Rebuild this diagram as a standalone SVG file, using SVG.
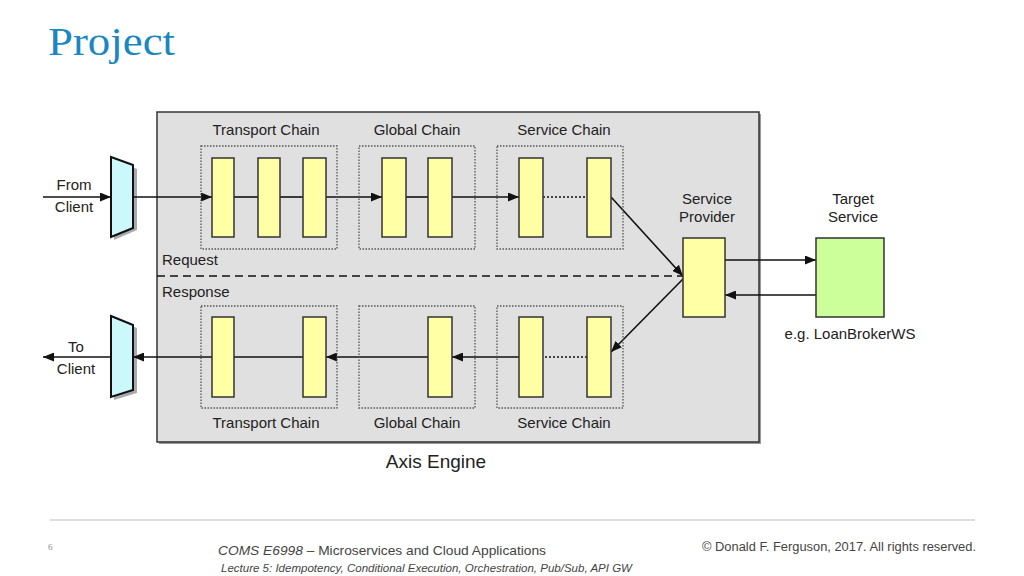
<svg xmlns="http://www.w3.org/2000/svg" width="1024" height="576" viewBox="0 0 1024 576">
<style>
.lbl{font-family:"Liberation Sans",Arial,sans-serif;font-size:15px;fill:#222}
.big{font-size:19px}
.yl{fill:#ffffa6;stroke:#333;stroke-width:1.5}
.dot{fill:none;stroke:#555;stroke-width:1.3;stroke-dasharray:1.5 1.5}
.ln{stroke:#111;stroke-width:1.6;fill:none}
.arr{stroke:#111;stroke-width:1.6;fill:none;marker-end:url(#ah)}
.ft{font-family:"Liberation Sans",Arial,sans-serif;fill:#444}
</style>
<defs>
<marker id="ah" markerUnits="userSpaceOnUse" markerWidth="11" markerHeight="9" refX="11" refY="4.5" orient="auto">
<path d="M0,0 L11,4.5 L0,9 z" fill="#111"/>
</marker>
</defs>
<rect width="1024" height="576" fill="#fff"/>
<text x="48" y="55" font-family="'Liberation Serif','Times New Roman',serif" font-size="40" fill="#1a87c1" textLength="127" lengthAdjust="spacingAndGlyphs">Project</text>

<g id="axis-engine">
<rect x="159" y="114" width="602" height="330" fill="#999"/>
<rect x="157" y="112" width="602" height="330" fill="#e0e0e0" stroke="#333" stroke-width="1.5"/>
<text x="436" y="468" class="lbl big" text-anchor="middle">Axis Engine</text>
<text x="162" y="265" class="lbl">Request</text>
<text x="162" y="297" class="lbl">Response</text>
</g>

<g id="in-funnel">
<polygon points="114,160 137,169 137,230 114,240" fill="#aaa"/>
<polygon points="111,157 133,165 133,228 111,237" fill="#ccf7fb" stroke="#111" stroke-width="2"/>
</g>
<g id="out-funnel">
<polygon points="114,319 137,328 137,393 114,400" fill="#aaa"/>
<polygon points="111,316 133,325 133,390 111,397" fill="#ccf7fb" stroke="#111" stroke-width="2"/>
</g>
<g id="from-client"><text class="lbl" text-anchor="middle" x="74" y="190">From</text><text class="lbl" text-anchor="middle" x="74" y="212">Client</text></g>
<g id="to-client"><text class="lbl" text-anchor="middle" x="76" y="352">To</text><text class="lbl" text-anchor="middle" x="76" y="374">Client</text></g>

<g id="connectors">
<line class="arr" x1="43" y1="197" x2="111" y2="197"/>
<line class="arr" x1="133" y1="197" x2="212" y2="197"/>
<line class="ln" x1="234" y1="197" x2="258" y2="197"/>
<line class="ln" x1="280" y1="197" x2="303" y2="197"/>
<line class="arr" x1="326" y1="197" x2="382" y2="197"/>
<line class="ln" x1="406" y1="197" x2="428" y2="197"/>
<line class="arr" x1="452" y1="197" x2="519" y2="197"/>
<line class="ln" x1="543" y1="197" x2="587" y2="197" stroke-dasharray="2 2" stroke-width="1.3"/>
<line class="arr" x1="611" y1="197" x2="683" y2="276"/>
<line class="ln" x1="157" y1="276" x2="683" y2="276" stroke-dasharray="8 5" stroke-width="2"/>
<line class="arr" x1="683" y1="279" x2="611" y2="352"/>
<line class="ln" x1="587" y1="357" x2="543" y2="357" stroke-dasharray="2 2" stroke-width="1.3"/>
<line class="arr" x1="519" y1="357" x2="452" y2="357"/>
<line class="arr" x1="428" y1="357" x2="326" y2="357"/>
<line class="ln" x1="303" y1="357" x2="234" y2="357"/>
<line class="arr" x1="212" y1="357" x2="133" y2="357"/>
<line class="arr" x1="111" y1="357" x2="43" y2="357"/>
<line class="arr" x1="725" y1="260" x2="816" y2="260"/>
<line class="arr" x1="816" y1="295" x2="725" y2="295"/>
</g>

<g id="transport-chain-req">
<rect class="dot" x="201" y="146" width="136" height="103"/>
<rect class="yl" x="212" y="158" width="22" height="79"/>
<rect class="yl" x="258" y="158" width="22" height="79"/>
<rect class="yl" x="303" y="158" width="23" height="79"/>
<text class="lbl" x="266" y="135" text-anchor="middle">Transport Chain</text>
</g>
<g id="global-chain-req">
<rect class="dot" x="359" y="146" width="116" height="103"/>
<rect class="yl" x="382" y="158" width="24" height="79"/>
<rect class="yl" x="428" y="158" width="24" height="79"/>
<text class="lbl" x="417" y="135" text-anchor="middle">Global Chain</text>
</g>
<g id="service-chain-req">
<rect class="dot" x="497" y="146" width="126" height="103"/>
<rect class="yl" x="519" y="158" width="24" height="79"/>
<rect class="yl" x="587" y="158" width="24" height="79"/>
<text class="lbl" x="564" y="135" text-anchor="middle">Service Chain</text>
</g>

<g id="transport-chain-resp">
<rect class="dot" x="201" y="306" width="136" height="102"/>
<rect class="yl" x="212" y="317" width="22" height="80"/>
<rect class="yl" x="303" y="317" width="23" height="80"/>
<text class="lbl" x="266" y="428" text-anchor="middle">Transport Chain</text>
</g>
<g id="global-chain-resp">
<rect class="dot" x="359" y="306" width="116" height="102"/>
<rect class="yl" x="428" y="317" width="24" height="80"/>
<text class="lbl" x="417" y="428" text-anchor="middle">Global Chain</text>
</g>
<g id="service-chain-resp">
<rect class="dot" x="497" y="306" width="126" height="102"/>
<rect class="yl" x="519" y="317" width="24" height="80"/>
<rect class="yl" x="587" y="317" width="24" height="80"/>
<text class="lbl" x="564" y="428" text-anchor="middle">Service Chain</text>
</g>

<g id="service-provider">
<rect class="yl" x="683" y="238" width="42" height="79"/>
<text class="lbl" x="707" y="204" text-anchor="middle">Service</text>
<text class="lbl" x="707" y="222" text-anchor="middle">Provider</text>
</g>
<g id="target-service">
<rect x="816" y="238" width="68" height="79" fill="#ccff99" stroke="#333" stroke-width="1.5"/>
<text class="lbl" x="853" y="204" text-anchor="middle">Target</text>
<text class="lbl" x="853" y="222" text-anchor="middle">Service</text>
<text class="lbl" x="850" y="339" text-anchor="middle">e.g. LoanBrokerWS</text>
</g>

<g id="footer">
<line x1="50" y1="520" x2="975" y2="520" stroke="#bbb" stroke-width="1"/>
<text x="48" y="550" font-family="'Liberation Serif',serif" font-size="9" fill="#888">6</text>
<text x="218" y="555" class="ft" font-size="13" textLength="328" lengthAdjust="spacingAndGlyphs"><tspan font-style="italic">COMS E6998</tspan> – Microservices and Cloud Applications</text>
<text x="221" y="572" class="ft" font-size="10" font-style="italic" textLength="411" lengthAdjust="spacingAndGlyphs">Lecture 5: Idempotency, Conditional Execution, Orchestration, Pub/Sub, API GW</text>
<text x="976" y="551" class="ft" font-size="12" fill="#666" text-anchor="end" textLength="274" lengthAdjust="spacingAndGlyphs">© Donald F. Ferguson, 2017. All rights reserved.</text>
</g>
</svg>
